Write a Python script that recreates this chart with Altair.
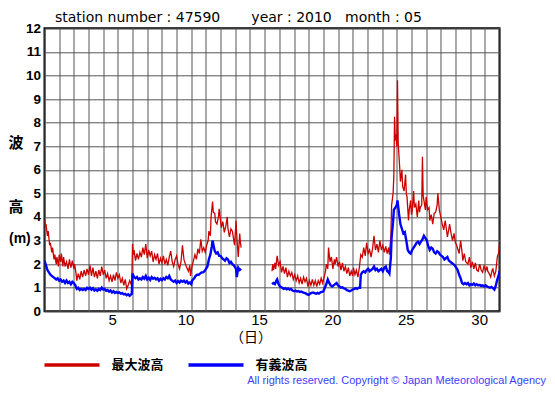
import altair as alt
import pandas as pd

# ---------------- data ----------------
series_names = ["最大波高", "有義波高"]
series_colors = ["#cc0000", "#0000ff"]

# 最大波高 (max wave height), part before the data gap
max_days_a = [0.0, 0.05, 0.1, 0.2, 0.25, 0.35, 0.4, 0.5, 0.55, 0.65, 0.7, 0.8, 0.85, 0.95,
              1.0, 1.1, 1.15, 1.25, 1.3, 1.4, 1.5, 1.6, 1.7, 1.8, 1.9, 2.0, 2.05, 2.15, 2.2,
              2.3, 2.4, 2.5, 2.6, 2.7, 2.8, 2.9, 3.0, 3.1, 3.2, 3.3, 3.4, 3.5, 3.6, 3.7, 3.8,
              3.9, 4.0, 4.1, 4.2, 4.3, 4.4, 4.5, 4.6, 4.7, 4.8, 4.9, 5.0, 5.1, 5.2, 5.3, 5.4,
              5.5, 5.6, 5.7, 5.8, 5.9, 5.95, 6.0, 6.05, 6.1, 6.2, 6.3, 6.4, 6.5, 6.6, 6.7,
              6.8, 6.9, 7.0, 7.1, 7.2, 7.3, 7.4, 7.5, 7.6, 7.7, 7.8, 7.9, 8.0, 8.1, 8.2, 8.3,
              8.4, 8.5, 8.6, 8.7, 8.8, 8.9, 9.0, 9.1, 9.2, 9.3, 9.4, 9.5, 9.6, 9.7, 9.8, 9.9,
              9.95, 10.05, 10.15, 10.25, 10.35, 10.45, 10.55, 10.65, 10.75, 10.85, 10.95,
              11.05, 11.15, 11.2, 11.3, 11.35, 11.45, 11.5, 11.6, 11.65, 11.75, 11.85, 11.9,
              12.0, 12.05, 12.15, 12.25, 12.35, 12.45, 12.5, 12.6, 12.7, 12.8, 12.9, 12.95,
              13.05, 13.1, 13.2, 13.3, 13.35, 13.4]
max_vals_a = [3.9, 3.6, 3.7, 3.2, 3.4, 2.8, 2.9, 2.5, 2.7, 2.2, 2.4, 2.0, 2.3, 1.9,
              2.4, 2.1, 2.45, 1.9, 2.3, 1.9, 2.1, 1.8, 2.2, 1.85, 2.15, 1.8, 2.0, 1.6, 1.3,
              1.6, 1.35, 1.7, 1.45, 1.75, 1.5, 1.8, 1.55, 1.95, 1.5, 1.85, 1.45, 1.7, 1.4, 1.75, 1.5,
              1.9, 1.55, 1.75, 1.4, 1.6, 1.3, 1.5, 1.25, 1.55, 1.3, 1.65, 1.4, 1.55, 1.2, 1.4, 1.1,
              1.35, 0.95, 1.1, 1.3, 1.15, 1.4, 2.85, 2.4, 2.6, 2.15, 2.45, 2.2, 2.5, 2.3, 2.7,
              2.4, 2.85, 2.25, 2.6, 2.35, 2.55, 2.1, 2.4, 2.2, 2.45, 2.0, 2.25, 2.05, 2.35, 2.0, 2.2,
              1.95, 2.3, 2.55, 2.1, 1.9, 2.2, 2.35, 2.0, 1.8, 2.1, 2.8, 2.2, 2.0, 1.85, 1.7, 1.95,
              1.5, 1.9, 2.15, 2.4, 2.2, 2.65, 2.45, 3.05, 2.55, 2.7, 2.5,
              2.8, 3.0, 3.4, 3.2, 4.0, 4.65, 4.2, 4.15, 3.8, 3.7, 4.0, 4.35,
              3.8, 3.55, 3.8, 3.35, 3.6, 4.0, 3.5, 3.15, 3.5, 3.4, 3.0, 2.8,
              3.85, 3.2, 2.3, 3.3, 2.9, 2.7]

# 最大波高, part after the data gap
max_days_b = [15.5, 15.55, 15.6, 15.7, 15.75, 15.85, 15.95, 16.05, 16.15, 16.25, 16.35, 16.45,
              16.55, 16.65, 16.75, 16.85, 16.95, 17.05, 17.15, 17.25, 17.35, 17.45, 17.55, 17.65,
              17.75, 17.85, 17.95, 18.05, 18.15, 18.25, 18.35, 18.45, 18.55, 18.65, 18.75, 18.85,
              18.95, 19.05, 19.15, 19.2, 19.3, 19.35, 19.45, 19.55, 19.65, 19.75, 19.8, 19.9,
              20.0, 20.1, 20.2, 20.3, 20.4, 20.5, 20.6, 20.7, 20.8, 20.9, 21.0, 21.05, 21.15,
              21.25, 21.35, 21.45, 21.55, 21.65, 21.75, 21.85, 21.95, 22.05, 22.15, 22.25, 22.35,
              22.45, 22.55, 22.65, 22.75, 22.85, 22.95, 23.05, 23.15, 23.25, 23.35, 23.45, 23.5,
              23.6, 23.65, 23.75, 23.8, 23.85, 23.9, 23.95, 24.0, 24.05, 24.1, 24.2, 24.25, 24.35,
              24.4, 24.5, 24.6, 24.65, 24.7, 24.8, 24.85, 24.95, 25.0, 25.05, 25.15, 25.2, 25.3,
              25.4, 25.5, 25.55, 25.6, 25.7, 25.75, 25.8, 25.85, 25.95, 26.0, 26.1, 26.2, 26.25,
              26.35, 26.45, 26.55, 26.65, 26.75, 26.8, 26.9, 27.0, 27.1, 27.2, 27.3, 27.4, 27.45,
              27.55, 27.6, 27.7, 27.8, 27.9, 28.0, 28.05, 28.15, 28.25, 28.35, 28.45, 28.5, 28.6,
              28.7, 28.85, 28.95, 29.05, 29.15, 29.25, 29.35, 29.45, 29.55, 29.65, 29.75, 29.85,
              29.95, 30.05, 30.15, 30.2, 30.3, 30.4, 30.5, 30.55, 30.65, 30.75, 30.85, 30.95, 31.0]
max_vals_b = [1.7, 2.0, 1.75, 2.05, 1.8, 2.35, 1.95, 2.1, 1.65, 1.9, 1.6, 1.85,
              1.45, 1.7, 1.5, 1.65, 1.35, 1.55, 1.3, 1.5, 1.2, 1.4, 1.15, 1.45,
              1.25, 1.4, 1.05, 1.3, 1.1, 1.35, 1.1, 1.3, 1.05, 1.3, 1.15, 1.4,
              1.2, 1.45, 1.7, 2.0, 1.8, 2.7, 2.1, 2.3, 1.8, 2.2, 2.0, 2.3,
              1.9, 2.1, 1.75, 2.05, 1.7, 1.9, 1.6, 1.85, 1.5, 1.7, 1.5, 1.85, 1.55,
              1.75, 1.45, 1.85, 2.4, 2.3, 2.7, 2.35, 2.9, 2.45, 2.6, 2.3, 2.65,
              3.2, 2.6, 2.85, 2.5, 3.0, 2.6, 2.8, 2.5, 2.75, 2.45, 2.7, 2.4,
              3.2, 4.5, 5.0, 5.7, 8.25, 7.25, 7.5, 7.0, 9.8, 7.1, 6.1, 5.5, 6.0,
              5.3, 5.1, 5.8, 5.0, 4.85, 3.85, 4.3, 4.7, 4.1, 4.25, 5.1, 4.4, 4.55,
              4.0, 4.7, 4.2, 4.4, 4.5, 6.55, 4.9, 4.7, 4.3, 4.85, 4.3, 4.4, 3.85,
              4.1, 3.7, 4.15, 4.2, 4.5, 5.0, 4.3, 4.0, 3.7, 3.45, 3.85, 3.4, 3.15,
              3.5, 3.7, 3.3, 3.0, 3.3, 2.9, 2.85, 2.65, 2.45, 3.0, 2.5, 2.15, 2.45,
              2.1, 2.0, 2.3, 1.85, 2.1, 1.8, 2.05, 1.75, 1.7, 2.0, 1.75, 1.65,
              1.95, 1.7, 1.9, 1.7, 1.6, 1.45, 1.75, 1.8, 1.5, 1.7, 2.3, 2.5, 2.85]

# 有義波高 (significant wave height), part before the data gap
sig_days_a = [0.0, 0.1, 0.2, 0.3, 0.4, 0.5, 0.6, 0.7, 0.8, 0.9, 1.0, 1.1, 1.2, 1.3, 1.4, 1.5,
              1.6, 1.7, 1.8, 1.9, 2.0, 2.1, 2.2, 2.3, 2.4, 2.5, 2.6, 2.7, 2.8, 2.9, 3.0, 3.1,
              3.2, 3.3, 3.4, 3.5, 3.6, 3.7, 3.8, 3.9, 4.0, 4.1, 4.2, 4.3, 4.4, 4.5, 4.6, 4.7,
              4.8, 4.9, 5.0, 5.1, 5.2, 5.3, 5.4, 5.5, 5.6, 5.7, 5.8, 5.9, 5.95, 6.0, 6.1, 6.2,
              6.3, 6.4, 6.5, 6.6, 6.7, 6.8, 6.9, 7.0, 7.1, 7.2, 7.3, 7.4, 7.5, 7.6, 7.7, 7.8,
              7.9, 8.0, 8.1, 8.2, 8.3, 8.4, 8.5, 8.6, 8.7, 8.8, 8.9, 9.0, 9.1, 9.2, 9.3, 9.4,
              9.5, 9.6, 9.7, 9.8, 9.9, 10.0, 10.05, 10.2, 10.3, 10.4, 10.5, 10.6, 10.7, 10.8,
              10.9, 11.0, 11.1, 11.2, 11.3, 11.4, 11.45, 11.55, 11.6, 11.7, 11.8, 11.9, 12.0,
              12.1, 12.2, 12.3, 12.4, 12.5, 12.6, 12.7, 12.8, 12.9, 13.0, 13.05, 13.1, 13.2,
              13.3, 13.4]
sig_vals_a = [2.15, 1.95, 1.75, 1.65, 1.55, 1.5, 1.45, 1.4, 1.35, 1.4, 1.3, 1.35, 1.25, 1.3, 1.2, 1.3,
              1.2, 1.25, 1.15, 1.25, 1.2, 1.1, 0.95, 1.0, 0.9, 0.95, 0.9, 0.95, 0.9, 1.0, 0.95, 1.0,
              0.92, 0.98, 0.88, 0.93, 0.87, 0.95, 0.9, 1.0, 0.92, 0.95, 0.87, 0.9, 0.83, 0.88, 0.8, 0.85,
              0.78, 0.82, 0.78, 0.8, 0.75, 0.77, 0.72, 0.74, 0.68, 0.72, 0.66, 0.72, 0.75, 1.6, 1.45, 1.4,
              1.45, 1.35, 1.4, 1.35, 1.45, 1.38, 1.5, 1.35, 1.42, 1.33, 1.45, 1.38, 1.42, 1.35, 1.4, 1.3,
              1.38, 1.32, 1.4, 1.35, 1.45, 1.4, 1.5, 1.35, 1.3, 1.25, 1.3, 1.2, 1.28, 1.22, 1.3, 1.25,
              1.3, 1.22, 1.28, 1.18, 1.22, 1.15, 1.3, 1.4, 1.5, 1.55, 1.55, 1.6, 1.65, 1.65,
              1.7, 1.8, 1.9, 2.2, 2.4, 2.75, 3.0, 2.7, 2.55, 2.45, 2.5, 2.35, 2.35,
              2.25, 2.2, 2.15, 2.25, 2.2, 2.05, 2.1, 2.0, 1.95, 1.85, 1.8, 1.45, 1.85,
              1.75, 1.8]

# 有義波高, part after the data gap
sig_days_b = [15.5, 15.6, 15.7, 15.8, 15.85, 15.95, 16.05, 16.2, 16.3, 16.4, 16.5, 16.6, 16.7,
              16.8, 16.9, 17.0, 17.1, 17.2, 17.3, 17.4, 17.5, 17.6, 17.7, 17.8, 17.9, 18.0, 18.1,
              18.2, 18.3, 18.4, 18.5, 18.6, 18.7, 18.8, 18.9, 19.0, 19.1, 19.2, 19.3, 19.4, 19.5,
              19.6, 19.7, 19.8, 19.9, 20.0, 20.1, 20.2, 20.3, 20.4, 20.5, 20.6, 20.7, 20.8, 20.9,
              21.0, 21.1, 21.2, 21.3, 21.4, 21.5, 21.55, 21.65, 21.75, 21.85, 21.95, 22.05, 22.15,
              22.25, 22.35, 22.45, 22.55, 22.65, 22.75, 22.85, 22.95, 23.05, 23.15, 23.25, 23.35,
              23.45, 23.5, 23.6, 23.65, 23.75, 23.8, 23.9, 24.0, 24.05, 24.15, 24.25, 24.35, 24.45,
              24.55, 24.65, 24.75, 24.85, 24.95, 25.05, 25.15, 25.25, 25.35, 25.45, 25.55, 25.65,
              25.75, 25.85, 25.95, 26.05, 26.15, 26.25, 26.35, 26.45, 26.55, 26.65, 26.75, 26.85,
              26.95, 27.05, 27.15, 27.25, 27.35, 27.45, 27.55, 27.65, 27.75, 27.85, 27.95, 28.05,
              28.15, 28.25, 28.35, 28.45, 28.55, 28.65, 28.75, 28.85, 28.95, 29.05, 29.15, 29.25,
              29.35, 29.45, 29.55, 29.65, 29.75, 29.85, 29.95, 30.05, 30.15, 30.25, 30.35, 30.45,
              30.55, 30.65, 30.75, 30.85, 30.95, 31.0]
sig_vals_b = [1.15, 1.2, 1.15, 1.3, 1.35, 1.15, 1.05, 1.0, 0.95, 0.98, 0.93, 0.97, 0.92,
              0.95, 0.88, 0.85, 0.88, 0.84, 0.86, 0.82, 0.84, 0.8, 0.78, 0.76, 0.72, 0.7, 0.75,
              0.78, 0.8, 0.77, 0.75, 0.78, 0.75, 0.8, 0.82, 0.85, 1.0, 1.15, 1.35, 1.2, 1.1,
              1.05, 1.1, 1.15, 1.2, 1.1, 1.05, 1.0, 1.02, 0.97, 0.95, 0.9, 0.88, 0.85, 0.88,
              0.92, 0.95, 0.98, 0.95, 1.0, 1.0, 1.55, 1.65, 1.7, 1.65, 1.75, 1.8, 1.7,
              1.75, 1.8, 1.9, 1.75, 1.8, 1.7, 1.75, 1.8, 1.7, 1.85, 1.9, 1.7,
              1.65, 1.6, 2.3, 3.15, 3.8, 4.3, 4.4, 4.5, 4.7, 4.15, 3.7, 3.5, 3.3,
              3.35, 3.0, 2.6, 2.5, 2.45, 2.6, 2.7, 2.8, 2.9, 2.95, 2.85, 2.95,
              3.05, 3.2, 3.1, 3.0, 2.75, 2.6, 2.7, 2.65, 2.5, 2.45, 2.55, 2.5,
              2.4, 2.35, 2.3, 2.2, 2.25, 2.3, 2.15, 2.1, 2.05, 2.0, 1.95, 1.85,
              1.75, 1.55, 1.4, 1.2, 1.15, 1.2, 1.15, 1.2, 1.1, 1.15, 1.12, 1.18,
              1.1, 1.15, 1.1, 1.12, 1.08, 1.1, 1.05, 1.1, 1.05, 1.02, 1.0, 1.03,
              0.98, 0.92, 1.1, 1.35, 1.55, 1.7]

x_tick_days = list(range(0, 32))
x_label_days = [4, 9, 14, 19, 24, 29]
y_ticks = list(range(0, 13))

header_text = ("station number : 47590" + "\u00a0" * 7 + "year : 2010"
               + "\u00a0" * 3 + "month : 05")
y_title_chars = ["波", "高", "(m)"]
x_title = "（日）"
copyright_text = "All rights reserved. Copyright © Japan Meteorological Agency"

# ---------------- build table ----------------
rows = []
for days, vals, name, seg in [
    (max_days_a, max_vals_a, series_names[0], "max_a"),
    (max_days_b, max_vals_b, series_names[0], "max_b"),
    (sig_days_a, sig_vals_a, series_names[1], "sig_a"),
    (sig_days_b, sig_vals_b, series_names[1], "sig_b"),
]:
    for d, v in zip(days, vals):
        rows.append({"day": d, "value": v, "series": name, "seg": seg})
df = pd.DataFrame(rows)

W, H = 455, 283

label_expr = ("indexof(" + str(x_label_days) + ", datum.value) >= 0 ? "
              "toString(datum.value + 1) : ''")

x_enc = alt.X(
    "day:Q",
    scale=alt.Scale(domain=[0, 31], nice=False, zero=False),
    axis=alt.Axis(
        values=x_tick_days, grid=True, ticks=False, domain=False,
        labelExpr=label_expr, labelOffset=9, labelFont="Liberation Sans",
        labelFontSize=15, labelColor="#000", labelPadding=1,
        labelFlush=False, labelOverlap=False, labelBound=False,
        gridColor="#555555", gridOpacity=1, gridWidth=1,
        title=x_title, titleFont="Noto Sans CJK JP", titleFontSize=14,
        titleFontWeight="normal", titleColor="#000", titleX=206,
        titleY=26, titleBaseline="middle", titleAlign="center",
    ),
)
y_enc = alt.Y(
    "value:Q",
    scale=alt.Scale(domain=[0, 12], nice=False, zero=True),
    axis=alt.Axis(
        values=y_ticks, grid=True, ticks=False, domain=False,
        labelFont="Liberation Sans", labelFontSize=13.5, labelFontWeight="bold",
        labelColor="#000", labelPadding=4, labelOverlap=False, labelFlush=False,
        gridColor="#555555", gridOpacity=1, gridWidth=1, title=None,
    ),
)
color_enc = alt.Color(
    "series:N",
    scale=alt.Scale(domain=series_names, range=series_colors),
    legend=alt.Legend(
        orient="none", legendX=-2, legendY=307, direction="horizontal",
        title=None, symbolType="stroke", symbolSize=3025,
        symbolStrokeWidth=3.5, labelFont="Noto Sans CJK JP",
        labelFontSize=13, labelFontWeight="bold", labelColor="#000",
        labelOffset=10, columnPadding=17,
    ),
)

base = alt.Chart(df).encode(x=x_enc, y=y_enc, color=color_enc, detail="seg:N")
red_line = base.transform_filter(
    alt.datum.series == series_names[0]
).mark_line(clip=True, strokeWidth=1.3)
blue_line = base.transform_filter(
    alt.datum.series == series_names[1]
).mark_line(clip=True, strokeWidth=2.4)


def note(text, x, y, **kw):
    return alt.Chart(pd.DataFrame({"t": [text]})).mark_text(**kw).encode(
        x=alt.value(x), y=alt.value(y), text="t:N"
    )


header = note(header_text, 10.5, -6.3, align="left", baseline="alphabetic",
              font="DejaVu Sans", fontSize=14, color="#000")
yt1 = note(y_title_chars[0], -28.5, 114.7, align="center", baseline="middle",
           font="Noto Sans CJK JP", fontSize=15, fontWeight="bold", color="#000")
yt2 = note(y_title_chars[1], -28.5, 178.7, align="center", baseline="middle",
           font="Noto Sans CJK JP", fontSize=15, fontWeight="bold", color="#000")
yt3 = note(y_title_chars[2], -35.5, 210.7, align="left", baseline="middle",
           font="Liberation Sans", fontSize=14, fontWeight="bold", color="#000")
copy = note(copyright_text, 501.5, 352.5, align="right", baseline="middle",
            font="Liberation Sans", fontSize=11, color="#3c3cff")

chart = alt.layer(red_line, blue_line, header, yt1, yt2, yt3, copy).properties(
    width=W, height=H,
    autosize=alt.AutoSizeParams(type="none"),
    padding={"left": 36.5, "top": 20.3, "right": 47, "bottom": 75.5},
    background="#ffffff",
).configure_view(stroke="#000", strokeWidth=2)

chart.save("out.html", embed_options={"renderer": "svg", "actions": False})
